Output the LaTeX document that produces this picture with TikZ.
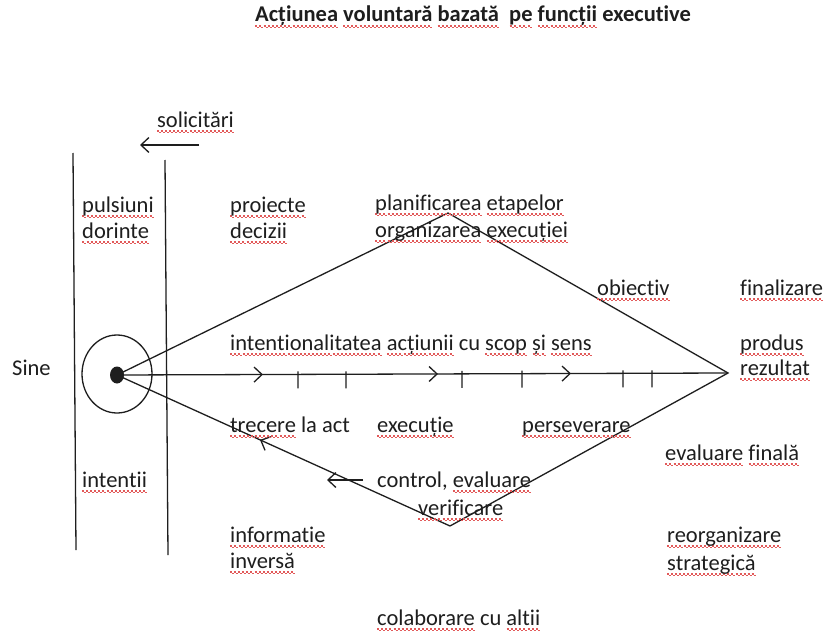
\documentclass[tikz,border=0pt]{standalone}
\usepackage{fontspec}
\setmainfont{Carlito}[Ligatures=NoCommon]
\usetikzlibrary{arrows.meta,decorations.markings,shapes.geometric}

\definecolor{ink}{HTML}{1E1E1E}
\definecolor{squig}{HTML}{E25A5A}

% red wavy spell-check underline drawn beneath a word
\newbox\splbox
\newcommand\spl[1]{\setbox\splbox=\hbox{#1}%
  \rlap{\color{squig}\hbox to \wd\splbox{\xleaders\hbox to 4pt{%
    \vrule width 2pt height -3.4pt depth 4.8pt\vrule width 2pt height -4.8pt depth 6.2pt}\hfill}}%
  \box\splbox}

\begin{document}
\begin{tikzpicture}[x=1pt,y=-1pt,
  lbl/.style={anchor=base west,inner sep=0pt,text=ink,font=\fontsize{22.5}{26}\selectfont},
  ttl/.style={lbl,font=\bfseries\fontsize{22.5}{26}\selectfont},
  stroke/.style={draw=ink,line width=1.3pt},
  barb/.style={-{Straight Barb[length=8pt,width=15pt]}},
  axis/.style={stroke,
    decoration={markings,
      mark=at position 146pt with {\arrow{Straight Barb[length=8pt,width=15pt]}},
      mark=at position 181pt with {\draw[stroke] (0,-3) -- (0,14);},
      mark=at position 229pt with {\draw[stroke] (0,-3) -- (0,14);},
      mark=at position 321pt with {\arrow{Straight Barb[length=8pt,width=15pt]}},
      mark=at position 345pt with {\draw[stroke] (0,-3) -- (0,14);},
      mark=at position 405pt with {\draw[stroke] (0,-3) -- (0,14);},
      mark=at position 454pt with {\arrow{Straight Barb[length=8pt,width=15pt]}},
      mark=at position 506pt with {\draw[stroke] (0,-3) -- (0,14);},
      mark=at position 535pt with {\draw[stroke] (0,-3) -- (0,14);}},
    postaction={decorate}},
  backedge/.style={stroke,
    decoration={markings,
      mark=at position 157pt with {\arrowreversed{Straight Barb[length=8pt,width=15pt]}}},
    postaction={decorate}}
]
\useasboundingbox[fill=white] (0,0) rectangle (825,634);

% the two vertical boundaries
\coordinate (lTop) at (73,153);
\coordinate (lBot) at (76,550);
\coordinate (rTop) at (165,160);
\coordinate (rBot) at (168,555);
\draw[stroke] (lTop) -- (lBot);
\draw[stroke] (rTop) -- (rBot);

% self: circle with central dot
\node[ellipse,draw=ink,line width=1.3pt,minimum width=70pt,minimum height=78pt,inner sep=0pt] (self) at (117,374) {};
\node[ellipse,fill=ink,minimum width=14pt,minimum height=17pt,inner sep=0pt] (dot) at (117,375) {};

% diamond corners
\coordinate (apexT) at (448,213);
\coordinate (vR) at (728,373);
\coordinate (apexB) at (450,526);

\draw[stroke,line join=miter] (dot.center) -- (apexT) -- (vR) -- (apexB);
\draw[backedge] (dot.center) -- (apexB);
\draw[axis] (dot.center) -- (vR);

% short feedback arrows
\coordinate (solS) at (199,145);
\coordinate (solE) at (140,145);
\draw[stroke,barb] (solS) -- (solE);
\coordinate (ctlS) at (363,480);
\coordinate (ctlE) at (327,480);
\draw[stroke,barb] (ctlS) -- (ctlE);

% labels
\node[ttl] (title) at (255,22) {\spl{Acțiunea} \spl{voluntară} \spl{bazată}\hspace{0.45em}\spl{pe} \spl{funcții} executive};
\node[lbl] (solicitari) at (157,127) {\spl{solicitări}};
\node[lbl] (pulsiuni) at (82,212) {\spl{pulsiuni}};
\node[lbl] (dorinte) at (82,238) {\spl{dorinte}};
\node[lbl] (proiecte) at (230,212) {\spl{proiecte}};
\node[lbl] (decizii) at (230,238) {\spl{decizii}};
\node[lbl] (planif) at (375,210) {\spl{planificarea} \spl{etapelor}};
\node[lbl] (organiz) at (375,237) {\spl{organizarea} \spl{execuției}};
\node[lbl] (obiectiv) at (597,295) {\spl{obiectiv}};
\node[lbl] (finalizare) at (740,295) {\spl{finalizare}};
\node[lbl] (intent) at (230,350) {\spl{intentionalitatea} \spl{acțiunii} cu \spl{scop} \spl{și} \spl{sens}};
\node[lbl] (produs) at (740,350) {\spl{produs}};
\node[lbl] (rezultat) at (740,375) {\spl{rezultat}};
\node[lbl] (sine) at (12,375) {Sine};
\node[lbl] (trecere) at (230,432) {\spl{trecere} la act};
\node[lbl] (executie) at (377,432) {\spl{execuție}};
\node[lbl] (persev) at (522,432) {\spl{perseverare}};
\node[lbl] (intentii) at (82,487) {\spl{intentii}};
\node[lbl] (control) at (377,487) {control, \spl{evaluare}};
\node[lbl] (verif) at (418,515) {\spl{verificare}};
\node[lbl] (evalfin) at (665,460) {\spl{evaluare} \spl{finală}};
\node[lbl] (informatie) at (230,542) {\spl{informatie}};
\node[lbl] (inversa) at (230,568) {\spl{inversă}};
\node[lbl] (reorg) at (667,542) {\spl{reorganizare}};
\node[lbl] (strateg) at (667,570) {\spl{strategică}};
\node[lbl] (colab) at (377,625) {\spl{colaborare} cu \spl{altii}};
\end{tikzpicture}
\end{document}
